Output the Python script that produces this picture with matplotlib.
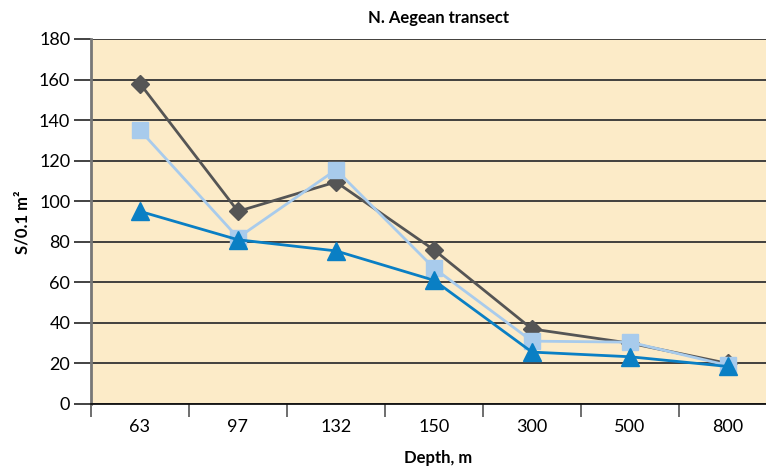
import matplotlib
matplotlib.use("Agg")
import matplotlib.pyplot as plt
import numpy as np

categories = ["63", "97", "132", "150", "300", "500", "800"]
series_diamond = [158, 95, 109.5, 76, 37, 30, 20]
series_square = [135, 82, 115.5, 67, 31, 30.5, 19]
series_triangle = [95, 81, 75.5, 61, 25.6, 23.3, 18.5]

plt.rcParams['font.family'] = ['Lato', 'DejaVu Sans']

fig = plt.figure(figsize=(7.66, 4.68), dpi=100)
ax = fig.add_axes([91/766, 64/468, 675/766, 365/468])
ax.set_facecolor('#fcebc8')

x = np.arange(len(categories))
ax.plot(x, series_diamond, color='#555555', lw=2, marker='D', ms=9.5, zorder=3)
ax.plot(x, series_square, color='#a8cbec', lw=2, marker='s', ms=12, zorder=4)
ax.plot(x, series_triangle, color='#0a7fc4', lw=2, marker='^', ms=12.5, zorder=5)

ax.set_ylim(0, 180)
ax.set_yticks(np.arange(0, 181, 20))
ax.set_xlim(-0.5, -0.5 + 675/98)
ax.set_xticks(x)
ax.set_xticklabels(categories)
ax.set_xticks(np.arange(-0.5, 6.5, 1), minor=True)
ax.tick_params(axis='x', which='major', length=0, labelsize=13, pad=11)
ax.tick_params(axis='x', which='minor', length=9, width=1.2, color='#555555')
ax.tick_params(axis='y', length=12, width=1.2, labelsize=13, color='#222222', pad=3)
ax.grid(axis='y', color='#333333', lw=1.3, zorder=1)
ax.set_axisbelow(True)

for s in ['top', 'right']:
    ax.spines[s].set_visible(False)
ax.spines['left'].set_color('#777777')
ax.spines['left'].set_linewidth(2)
ax.spines['bottom'].set_color('#111111')
ax.spines['bottom'].set_linewidth(1.3)

fig.text(438/766, 1 - 18/468, "N. Aegean transect", ha='center', va='center',
         fontsize=12, fontweight='bold')
fig.text(438/766, 1 - 458/468, "Depth, m", ha='center', va='center',
         fontsize=12, fontweight='bold')
fig.text(22/766, 1 - 222/468, "S/0.1 m²", ha='center', va='center',
         rotation=90, fontsize=12, fontweight='bold')

fig.savefig("out.png", dpi=100)
